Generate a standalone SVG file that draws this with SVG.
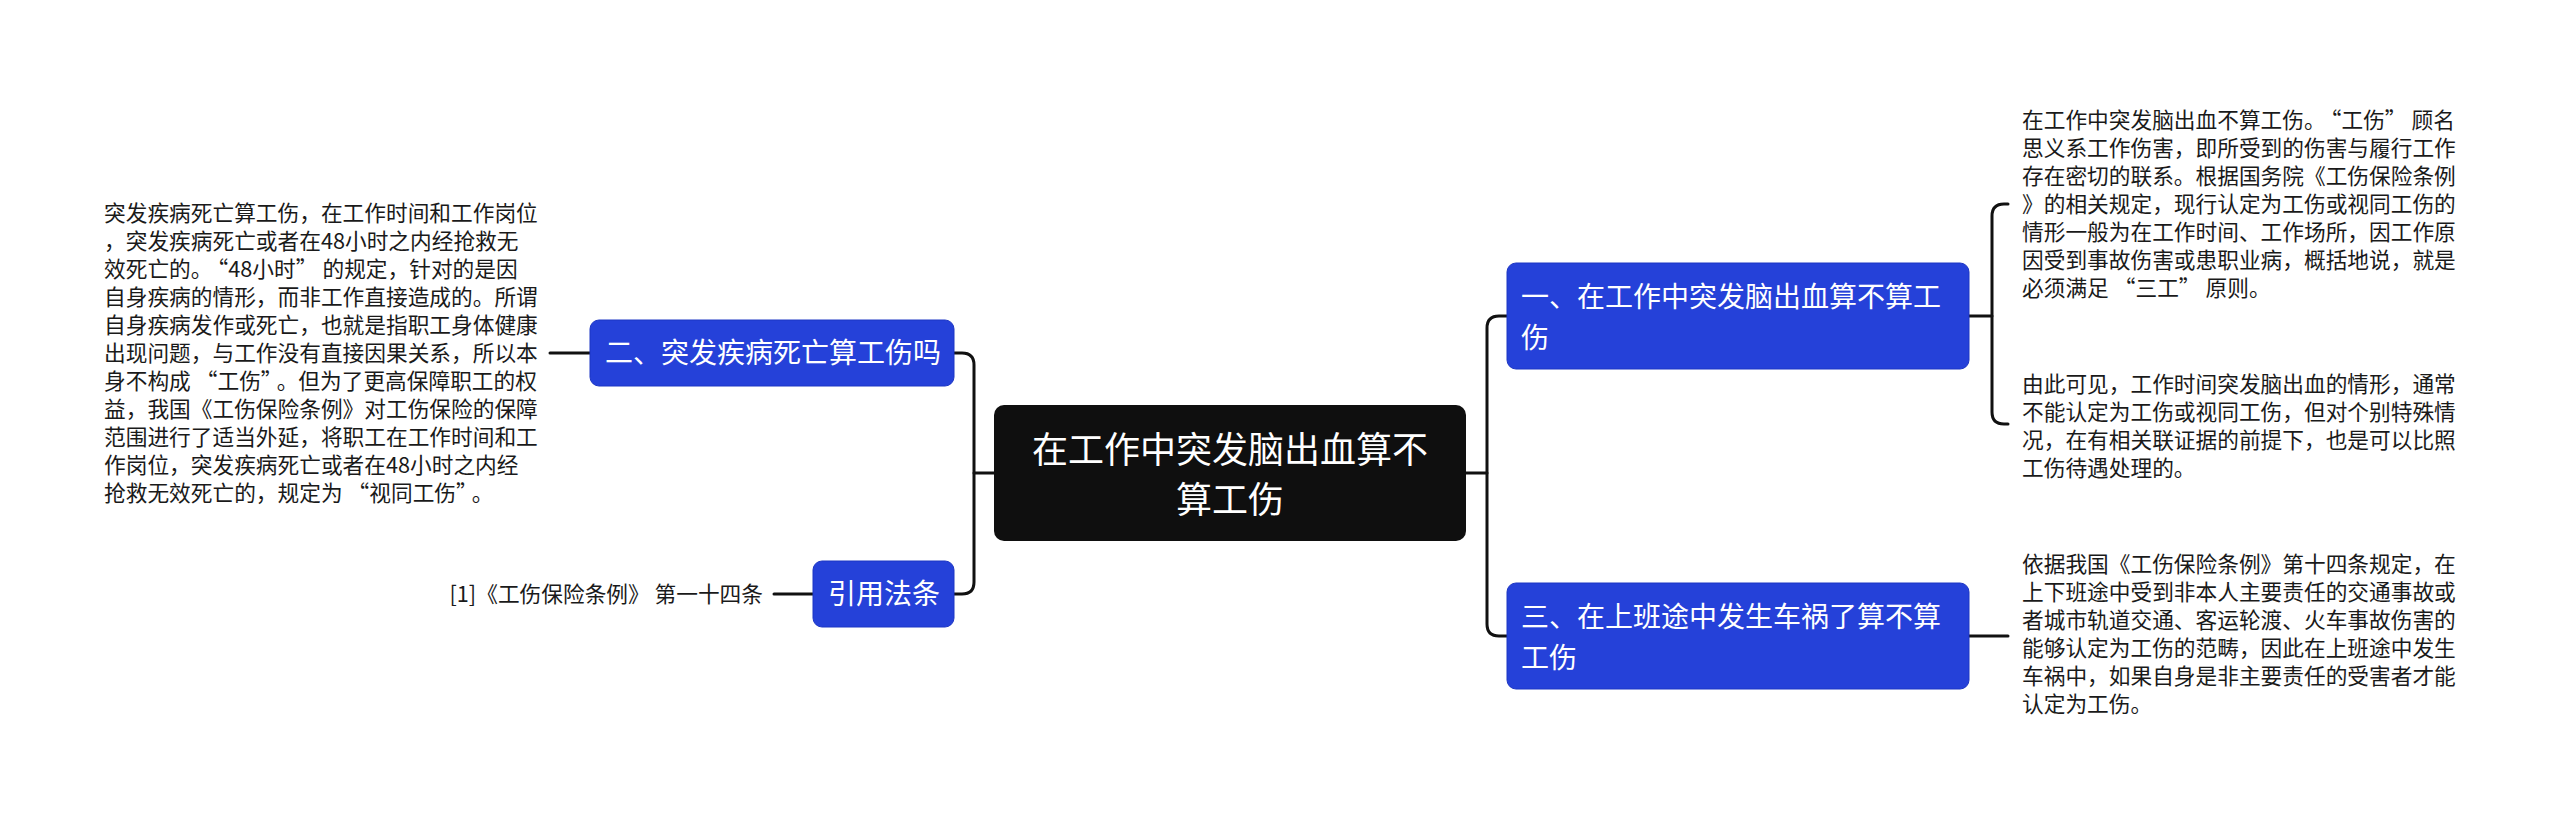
<svg xmlns="http://www.w3.org/2000/svg" width="2560" height="820" viewBox="0 0 2560 820">
<style>
.bg{fill:#ffffff}
.root{fill:#0f0f0f}
.sub{fill:#2541d9;stroke:#1d36c4;stroke-width:1}
.rt{font-family:"Noto Sans CJK SC","Noto Sans",sans-serif;font-size:36px;fill:#ffffff;text-anchor:middle}
.st{font-family:"Noto Sans CJK SC","Noto Sans",sans-serif;font-size:28px;fill:#ffffff}
.lt{font-family:"Noto Sans CJK SC","Noto Sans",sans-serif;font-size:21.7px;fill:#1a1a1a}
.conn{fill:none;stroke:#111111;stroke-width:3;stroke-linecap:round;stroke-linejoin:round}
</style>
<rect class="bg" x="0" y="0" width="2560" height="820"/>
<g id="connectors">
<path class="conn" d="M994,473 H974"/>
<path class="conn" d="M954,353 H962 Q974,353 974,365 V582 Q974,594 962,594 H954"/>
<path class="conn" d="M550,353 H590"/>
<path class="conn" d="M774,594 H813"/>
<path class="conn" d="M1466,473 H1487"/>
<path class="conn" d="M1507,316 H1499 Q1487,316 1487,328 V624 Q1487,636 1499,636 H1507"/>
<path class="conn" d="M1969,316 H1992"/>
<path class="conn" d="M2008,204 H2004 Q1992,204 1992,216 V412 Q1992,424 2004,424 H2008"/>
<path class="conn" d="M1969,636 H2008"/>
</g>
<g id="root">
<rect class="root" x="994" y="405" width="472" height="136" rx="10"/>
<text class="rt" x="1230" y="463">在工作中突发脑出血算不</text>
<text class="rt" x="1230" y="513">算工伤</text>
</g>
<g id="node-2">
<rect class="sub" x="590" y="320" width="364" height="66" rx="9"/>
<text class="st" x="605" y="363">二、突发疾病死亡算工伤吗</text>
</g>
<g id="node-2-text">
<text class="lt">
<tspan x="104" y="221">突发疾病死亡算工伤，在工作时间和工作岗位</tspan>
<tspan x="104" y="249">，突发疾病死亡或者在48小时之内经抢救无</tspan>
<tspan x="104" y="277">效死亡的。<tspan dx="5">“48小时”</tspan><tspan dx="5">的规定，针对的是因</tspan></tspan>
<tspan x="104" y="305">自身疾病的情形，而非工作直接造成的。所谓</tspan>
<tspan x="104" y="333">自身疾病发作或死亡，也就是指职工身体健康</tspan>
<tspan x="104" y="361">出现问题，与工作没有直接因果关系，所以本</tspan>
<tspan x="104" y="389">身不构成<tspan dx="5">“工伤”</tspan><tspan dx="5">。但为了更高保障职工的权</tspan></tspan>
<tspan x="104" y="417">益，我国《工伤保险条例》对工伤保险的保障</tspan>
<tspan x="104" y="445">范围进行了适当外延，将职工在工作时间和工</tspan>
<tspan x="104" y="473">作岗位，突发疾病死亡或者在48小时之内经</tspan>
<tspan x="104" y="501">抢救无效死亡的，规定为<tspan dx="5">“视同工伤”</tspan><tspan dx="5">。</tspan></tspan>
</text>
</g>
<g id="node-law">
<rect class="sub" x="813" y="561" width="141" height="66" rx="9"/>
<text class="st" x="828" y="604">引用法条</text>
</g>
<g id="node-law-text">
<text class="lt" x="763" y="602" text-anchor="end">[1]《工伤保险条例》 第一十四条</text>
</g>
<g id="node-1">
<rect class="sub" x="1507" y="263" width="462" height="106" rx="9"/>
<text class="st"><tspan x="1521" y="307">一、在工作中突发脑出血算不算工</tspan><tspan x="1521" y="348">伤</tspan></text>
</g>
<g id="node-1-text-a">
<text class="lt">
<tspan x="2022" y="128">在工作中突发脑出血不算工伤。<tspan dx="5">“工伤”</tspan><tspan dx="5">顾名</tspan></tspan>
<tspan x="2022" y="156">思义系工作伤害，即所受到的伤害与履行工作</tspan>
<tspan x="2022" y="184">存在密切的联系。根据国务院《工伤保险条例</tspan>
<tspan x="2022" y="212">》的相关规定，现行认定为工伤或视同工伤的</tspan>
<tspan x="2022" y="240">情形一般为在工作时间、工作场所，因工作原</tspan>
<tspan x="2022" y="268">因受到事故伤害或患职业病，概括地说，就是</tspan>
<tspan x="2022" y="296">必须满足<tspan dx="5">“三工”</tspan><tspan dx="5">原则。</tspan></tspan>
</text>
</g>
<g id="node-1-text-b">
<text class="lt">
<tspan x="2022" y="392">由此可见，工作时间突发脑出血的情形，通常</tspan>
<tspan x="2022" y="420">不能认定为工伤或视同工伤，但对个别特殊情</tspan>
<tspan x="2022" y="448">况，在有相关联证据的前提下，也是可以比照</tspan>
<tspan x="2022" y="476">工伤待遇处理的。</tspan>
</text>
</g>
<g id="node-3">
<rect class="sub" x="1507" y="583" width="462" height="106" rx="9"/>
<text class="st"><tspan x="1521" y="627">三、在上班途中发生车祸了算不算</tspan><tspan x="1521" y="668">工伤</tspan></text>
</g>
<g id="node-3-text">
<text class="lt">
<tspan x="2022" y="572">依据我国《工伤保险条例》第十四条规定，在</tspan>
<tspan x="2022" y="600">上下班途中受到非本人主要责任的交通事故或</tspan>
<tspan x="2022" y="628">者城市轨道交通、客运轮渡、火车事故伤害的</tspan>
<tspan x="2022" y="656">能够认定为工伤的范畴，因此在上班途中发生</tspan>
<tspan x="2022" y="684">车祸中，如果自身是非主要责任的受害者才能</tspan>
<tspan x="2022" y="712">认定为工伤。</tspan>
</text>
</g>
</svg>
